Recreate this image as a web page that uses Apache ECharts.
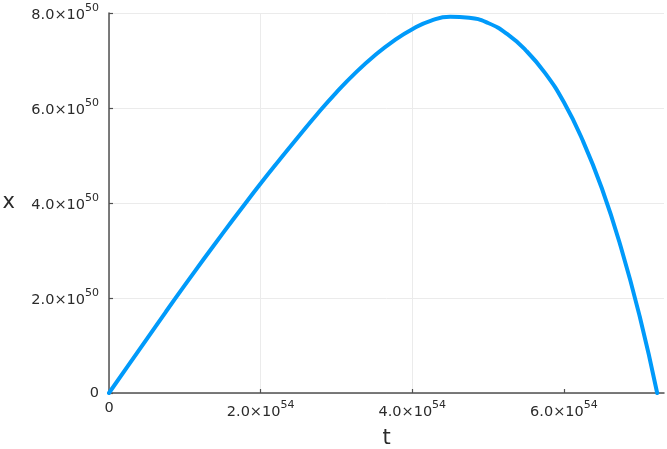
<!DOCTYPE html>
<html>
<head>
<meta charset="utf-8">
<script src="https://cdn.jsdelivr.net/npm/echarts@6/dist/echarts.min.js"></script>
<style>html,body{margin:0;padding:0;background:#fff}#c{width:667px;height:449px}</style>
</head>
<body>
<div id="c"></div>
<script>
// t values
const tValues = [0, 0.25e54, 0.5e54, 0.75e54, 1.0e54, 1.25e54, 1.5e54, 1.75e54, 2.0e54, 2.25e54, 2.5e54, 2.75e54, 3.0e54, 3.25e54, 3.5e54, 3.75e54, 4.0e54, 4.25e54, 4.5e54, 4.75e54, 5.0e54, 5.25e54, 5.5e54, 5.75e54, 6.0e54, 6.25e54, 6.5e54, 6.75e54, 7.0e54, 7.23e54];
// x values
const xValues = [0, 0.57e50, 1.14e50, 1.71e50, 2.27e50, 2.82e50, 3.36e50, 3.89e50, 4.41e50, 4.91e50, 5.40e50, 5.88e50, 6.33e50, 6.74e50, 7.10e50, 7.41e50, 7.66e50, 7.84e50, 7.92e50, 7.90e50, 7.79e50, 7.56e50, 7.21e50, 6.74e50, 6.12e50, 5.31e50, 4.31e50, 3.08e50, 1.61e50, 0];
const xTicks = [0, 2e54, 4e54, 6e54];
const yTicks = [0, 2e50, 4e50, 6e50, 8e50];
const xExp = 54, yExp = 50;

const FONT = 'DejaVu Sans';
const TXT = '#2b2b2b';
const AX = '#505050';

function fmt(v, exp) {
  if (Math.abs(v) < 1e-300) return '{z|0}';
  const m = (v / Math.pow(10, exp)).toFixed(1);
  return '{m|' + m + '×10}{s|' + exp + '}';
}
const rich = {
  m: {fontFamily: FONT, fontSize: 14.5, color: TXT, lineHeight: 20, verticalAlign: 'bottom'},
  s: {fontFamily: FONT, fontSize: 11, color: TXT, lineHeight: 11, verticalAlign: 'top'},
  z: {fontFamily: FONT, fontSize: 14.5, color: TXT, lineHeight: 16}
};

const data = tValues.map((t, i) => [t, xValues[i]]);

const chart = echarts.init(document.getElementById('c'), null, {renderer: 'canvas'});
chart.setOption({
  animation: false,
  backgroundColor: '#fff',
  grid: {left: 109, right: 3, top: 13, bottom: 56, containLabel: false, outerBoundsMode: 'none'},
  xAxis: {
    type: 'value', min: 0, max: 7.32e54, interval: 2e54,
    name: 't', nameLocation: 'middle', nameGap: 35,
    nameTextStyle: {fontFamily: FONT, fontSize: 21, color: TXT},
    axisLine: {show: true, onZero: false, lineStyle: {color: AX, width: 1.5}},
    axisTick: {show: true, inside: true, length: 4, lineStyle: {color: AX, width: 1.2}, customValues: xTicks},
    axisLabel: {customValues: xTicks, margin: 7, formatter: v => fmt(v, xExp), rich: rich},
    splitLine: {show: true, showMaxLine: false, lineStyle: {color: '#ebebeb', width: 1}}
  },
  yAxis: {
    type: 'value', min: 0, max: 8e50, interval: 2e50,
    name: 'x', nameLocation: 'middle', nameGap: 94, nameRotate: 0,
    nameTextStyle: {fontFamily: FONT, fontSize: 21, color: TXT, padding: [6, 0, 0, 0]},
    axisLine: {show: true, onZero: false, lineStyle: {color: AX, width: 1.5}},
    axisTick: {show: true, inside: true, length: 4, lineStyle: {color: AX, width: 1.2}},
    axisLabel: {margin: 10, formatter: v => fmt(v, yExp), rich: rich},
    splitLine: {show: true, lineStyle: {color: '#ebebeb', width: 1}}
  },
  series: [{
    type: 'line', data: data, smooth: 0.5, showSymbol: false, clip: false,
    lineStyle: {color: '#009AFA', width: 4, cap: 'round'}
  }]
});
</script>
</body>
</html>
